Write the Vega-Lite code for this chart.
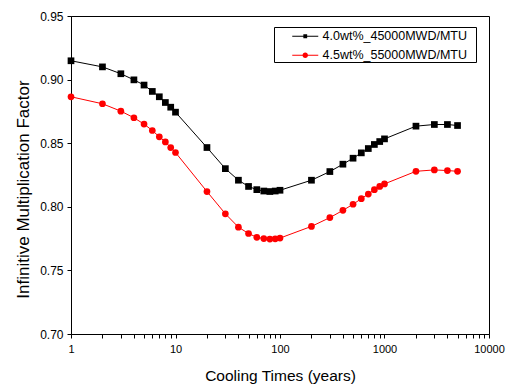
{
  "$schema": "https://vega.github.io/schema/vega-lite/v6.json",
  "width": 418,
  "height": 318,
  "autosize": "none",
  "padding": {"left": 71, "top": 16, "right": 22, "bottom": 51},
  "background": "white",
  "config": {
    "font": "Liberation Sans",
    "view": {"stroke": "black", "strokeWidth": 1},
    "axis": {
      "domainColor": "black",
      "tickColor": "black",
      "labelColor": "black",
      "titleColor": "black",
      "labelFont": "Liberation Sans",
      "titleFont": "Liberation Sans",
      "titleFontWeight": "normal",
      "labelFlush": false,
      "labelOverlap": false,
      "grid": false
    },
    "legend": {
      "labelFont": "Liberation Sans",
      "labelColor": "black",
      "labelFontSize": 12.5,
      "symbolSize": 100,
      "symbolOffset": 22,
      "labelOffset": 11,
      "symbolOpacity": 1,
      "padding": 3,
      "orient": "none",
      "labelLimit": 300
    }
  },
  "data": {
    "values": [
      {"t": 1, "k": 0.9148, "s": "4.0wt%_45000MWD/MTU"},
      {"t": 2, "k": 0.9100, "s": "4.0wt%_45000MWD/MTU"},
      {"t": 3, "k": 0.9046, "s": "4.0wt%_45000MWD/MTU"},
      {"t": 4, "k": 0.8998, "s": "4.0wt%_45000MWD/MTU"},
      {"t": 5, "k": 0.8957, "s": "4.0wt%_45000MWD/MTU"},
      {"t": 6, "k": 0.8907, "s": "4.0wt%_45000MWD/MTU"},
      {"t": 7, "k": 0.8865, "s": "4.0wt%_45000MWD/MTU"},
      {"t": 8, "k": 0.8820, "s": "4.0wt%_45000MWD/MTU"},
      {"t": 9, "k": 0.8783, "s": "4.0wt%_45000MWD/MTU"},
      {"t": 10, "k": 0.8744, "s": "4.0wt%_45000MWD/MTU"},
      {"t": 20, "k": 0.8466, "s": "4.0wt%_45000MWD/MTU"},
      {"t": 30, "k": 0.8300, "s": "4.0wt%_45000MWD/MTU"},
      {"t": 40, "k": 0.8209, "s": "4.0wt%_45000MWD/MTU"},
      {"t": 50, "k": 0.8160, "s": "4.0wt%_45000MWD/MTU"},
      {"t": 60, "k": 0.8135, "s": "4.0wt%_45000MWD/MTU"},
      {"t": 70, "k": 0.8124, "s": "4.0wt%_45000MWD/MTU"},
      {"t": 80, "k": 0.8120, "s": "4.0wt%_45000MWD/MTU"},
      {"t": 90, "k": 0.8124, "s": "4.0wt%_45000MWD/MTU"},
      {"t": 100, "k": 0.8130, "s": "4.0wt%_45000MWD/MTU"},
      {"t": 200, "k": 0.8209, "s": "4.0wt%_45000MWD/MTU"},
      {"t": 300, "k": 0.8277, "s": "4.0wt%_45000MWD/MTU"},
      {"t": 400, "k": 0.8335, "s": "4.0wt%_45000MWD/MTU"},
      {"t": 500, "k": 0.8382, "s": "4.0wt%_45000MWD/MTU"},
      {"t": 600, "k": 0.8424, "s": "4.0wt%_45000MWD/MTU"},
      {"t": 700, "k": 0.8458, "s": "4.0wt%_45000MWD/MTU"},
      {"t": 800, "k": 0.8490, "s": "4.0wt%_45000MWD/MTU"},
      {"t": 900, "k": 0.8513, "s": "4.0wt%_45000MWD/MTU"},
      {"t": 1000, "k": 0.8534, "s": "4.0wt%_45000MWD/MTU"},
      {"t": 2000, "k": 0.8634, "s": "4.0wt%_45000MWD/MTU"},
      {"t": 3000, "k": 0.8647, "s": "4.0wt%_45000MWD/MTU"},
      {"t": 4000, "k": 0.8647, "s": "4.0wt%_45000MWD/MTU"},
      {"t": 5000, "k": 0.8639, "s": "4.0wt%_45000MWD/MTU"},
      {"t": 1, "k": 0.8865, "s": "4.5wt%_55000MWD/MTU"},
      {"t": 2, "k": 0.8810, "s": "4.5wt%_55000MWD/MTU"},
      {"t": 3, "k": 0.8752, "s": "4.5wt%_55000MWD/MTU"},
      {"t": 4, "k": 0.8700, "s": "4.5wt%_55000MWD/MTU"},
      {"t": 5, "k": 0.8650, "s": "4.5wt%_55000MWD/MTU"},
      {"t": 6, "k": 0.8600, "s": "4.5wt%_55000MWD/MTU"},
      {"t": 7, "k": 0.8550, "s": "4.5wt%_55000MWD/MTU"},
      {"t": 8, "k": 0.8510, "s": "4.5wt%_55000MWD/MTU"},
      {"t": 9, "k": 0.8466, "s": "4.5wt%_55000MWD/MTU"},
      {"t": 10, "k": 0.8427, "s": "4.5wt%_55000MWD/MTU"},
      {"t": 20, "k": 0.8120, "s": "4.5wt%_55000MWD/MTU"},
      {"t": 30, "k": 0.7945, "s": "4.5wt%_55000MWD/MTU"},
      {"t": 40, "k": 0.7840, "s": "4.5wt%_55000MWD/MTU"},
      {"t": 50, "k": 0.7790, "s": "4.5wt%_55000MWD/MTU"},
      {"t": 60, "k": 0.7760, "s": "4.5wt%_55000MWD/MTU"},
      {"t": 70, "k": 0.7750, "s": "4.5wt%_55000MWD/MTU"},
      {"t": 80, "k": 0.7746, "s": "4.5wt%_55000MWD/MTU"},
      {"t": 90, "k": 0.7748, "s": "4.5wt%_55000MWD/MTU"},
      {"t": 100, "k": 0.7754, "s": "4.5wt%_55000MWD/MTU"},
      {"t": 200, "k": 0.7846, "s": "4.5wt%_55000MWD/MTU"},
      {"t": 300, "k": 0.7915, "s": "4.5wt%_55000MWD/MTU"},
      {"t": 400, "k": 0.7972, "s": "4.5wt%_55000MWD/MTU"},
      {"t": 500, "k": 0.8020, "s": "4.5wt%_55000MWD/MTU"},
      {"t": 600, "k": 0.8064, "s": "4.5wt%_55000MWD/MTU"},
      {"t": 700, "k": 0.8100, "s": "4.5wt%_55000MWD/MTU"},
      {"t": 800, "k": 0.8135, "s": "4.5wt%_55000MWD/MTU"},
      {"t": 900, "k": 0.8160, "s": "4.5wt%_55000MWD/MTU"},
      {"t": 1000, "k": 0.8180, "s": "4.5wt%_55000MWD/MTU"},
      {"t": 2000, "k": 0.8279, "s": "4.5wt%_55000MWD/MTU"},
      {"t": 3000, "k": 0.8290, "s": "4.5wt%_55000MWD/MTU"},
      {"t": 4000, "k": 0.8285, "s": "4.5wt%_55000MWD/MTU"},
      {"t": 5000, "k": 0.8279, "s": "4.5wt%_55000MWD/MTU"}
    ]
  },
  "layer": [
    {
      "mark": {"type": "line", "strokeWidth": 1},
      "encoding": {
        "x": {
          "field": "t", "type": "quantitative",
          "scale": {"type": "log", "domain": [1, 10000], "nice": false},
          "axis": {
            "orient": "bottom",
            "values": [1, 2, 3, 4, 5, 6, 7, 8, 9, 10, 20, 30, 40, 50, 60, 70, 80, 90, 100, 200, 300, 400, 500, 600, 700, 800, 900, 1000, 2000, 3000, 4000, 5000, 6000, 7000, 8000, 9000, 10000],
            "format": "d",
            "labelExpr": "indexof([1,10,100,1000,10000], datum.value) >= 0 ? datum.label : ''",
            "tickSize": 4,
            "labelFontSize": 11,
            "labelPadding": 5,
            "title": "Cooling Times (years)",
            "titleFontSize": 15.5,
            "titlePadding": 14
          }
        },
        "y": {
          "field": "k", "type": "quantitative",
          "scale": {"domain": [0.7, 0.95], "zero": false, "nice": false},
          "axis": {
            "orient": "left",
            "values": [0.7, 0.725, 0.75, 0.775, 0.8, 0.825, 0.85, 0.875, 0.9, 0.925, 0.95],
            "format": ".2f",
            "labelExpr": "abs(datum.value*20 - round(datum.value*20)) < 0.001 ? datum.label : ''",
            "tickSize": 4,
            "labelFontSize": 12,
            "labelPadding": 4,
            "title": "Infinitive Multiplication Factor",
            "titleFontSize": 17,
            "titlePadding": 7,
            "titleY": 173
          }
        },
        "stroke": {
          "field": "s", "type": "nominal",
          "scale": {"domain": ["4.0wt%_45000MWD/MTU", "4.5wt%_55000MWD/MTU"], "range": ["black", "red"]},
          "legend": null
        }
      }
    },
    {
      "transform": [{"filter": "datum.s === '4.0wt%_45000MWD/MTU'"}],
      "mark": {"type": "point", "shape": "square", "filled": true, "size": 45, "opacity": 1},
      "encoding": {
        "x": {"field": "t", "type": "quantitative"},
        "y": {"field": "k", "type": "quantitative"},
        "fill": {
          "field": "s", "type": "nominal",
          "scale": {"domain": ["4.0wt%_45000MWD/MTU"], "range": ["black"]},
          "legend": {
            "title": " ",
            "titleOrient": "right",
            "titleFontSize": 46,
            "titlePadding": 6,
            "legendX": 203,
            "legendY": 11,
            "strokeColor": "black",
            "fillColor": "white",
            "symbolType": "M-2.6,-0.1H2.6V0.1H-2.6ZM-0.38,-0.38H0.38V0.38H-0.38Z"
          }
        }
      }
    },
    {
      "transform": [{"filter": "datum.s === '4.5wt%_55000MWD/MTU'"}],
      "mark": {"type": "point", "shape": "circle", "filled": true, "size": 45, "opacity": 1},
      "encoding": {
        "x": {"field": "t", "type": "quantitative"},
        "y": {"field": "k", "type": "quantitative"},
        "color": {
          "field": "s", "type": "nominal",
          "scale": {"domain": ["4.5wt%_55000MWD/MTU"], "range": ["red"]},
          "legend": {
            "title": null,
            "legendX": 203,
            "legendY": 30,
            "symbolType": "M-2.6,-0.1H2.6V0.1H-2.6ZM0.55,0A0.55,0.55,0,1,1,-0.55,0A0.55,0.55,0,1,1,0.55,0Z"
          }
        }
      }
    }
  ]
}
